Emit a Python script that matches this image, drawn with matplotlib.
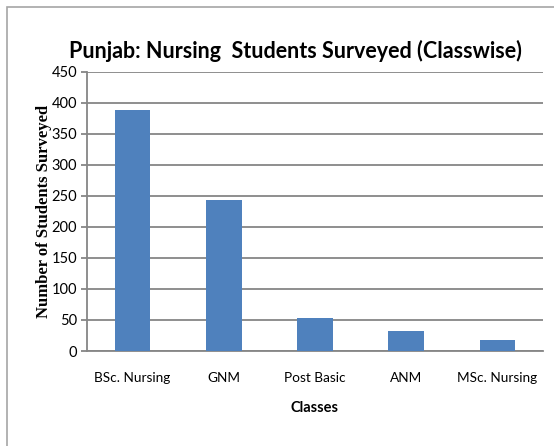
import matplotlib
matplotlib.use("Agg")
import matplotlib.pyplot as plt
from matplotlib.patches import Rectangle

# data
classes = ["BSc. Nursing", "GNM", "Post Basic", "ANM", "MSc. Nursing"]
students = [389, 244, 53, 32, 18]
y_ticks = [0, 50, 100, 150, 200, 250, 300, 350, 400, 450]

sans = ["Lato", "DejaVu Sans"]
serif = ["Liberation Serif", "DejaVu Serif"]
grid_col = "#868686"

fig = plt.figure(figsize=(5.54, 4.46), dpi=100)
ax = fig.add_axes([0.157, 0.213, 0.823, 0.626])

# outer chart frame (only top and left edges show in the picture)
fig.patches.append(Rectangle((0.0126, -0.1), 1.1, 1.0844, transform=fig.transFigure,
                             fill=False, edgecolor="#a6a6a6", linewidth=1.2))

x = range(len(classes))
ax.bar(x, students, width=0.39, color="#4F81BD", zorder=3)

ax.set_xlim(-0.5, len(classes) - 0.5)
ax.set_ylim(0, 450)
ax.set_yticks(y_ticks)
ax.yaxis.grid(True, color=grid_col, linewidth=1.3, zorder=0)

for s in ["top", "right"]:
    ax.spines[s].set_visible(False)
for s in ["left", "bottom"]:
    ax.spines[s].set_color(grid_col)
    ax.spines[s].set_linewidth(1.3)

ax.set_xticks(list(x))
ax.set_xticklabels(classes, family=sans, fontsize=9.8)
ax.tick_params(axis="x", length=0, pad=15)
ax.tick_params(axis="y", length=4, color=grid_col, width=1.3, pad=3, labelsize=10.5)
for lbl in ax.get_yticklabels():
    lbl.set_family(sans)

ax.set_xlabel("Classes", family=sans, fontsize=10.5, fontweight="bold", labelpad=12)
ax.set_ylabel("Number of Students Surveyed", family=serif, fontsize=12,
              fontweight="bold", labelpad=0)
fig.text(0.534, 0.885, "Punjab: Nursing  Students Surveyed (Classwise)", family=sans,
         fontsize=15.5, fontweight="bold", ha="center", va="center")

fig.savefig("out.png", dpi=100)
